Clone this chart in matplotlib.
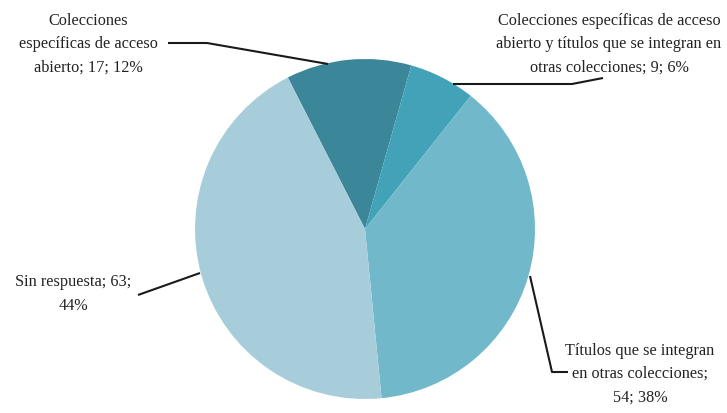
import matplotlib

matplotlib.use("Agg")
import matplotlib.pyplot as plt

# data
labels = [
    "Colecciones\nespecíficas de acceso\nabierto; 17; 12%",
    "Colecciones específicas de acceso\nabierto y títulos que se integran en\notras colecciones; 9; 6%",
    "Títulos que se integran\nen otras colecciones;\n54; 38%",
    "Sin respuesta; 63;\n44%",
]
values = [17, 9, 54, 63]
colors = ["#3B8799", "#42A3B8", "#72B8CB", "#A7CDDB"]

W, H = 727, 414
plt.rcParams["font.family"] = ["Liberation Serif", "DejaVu Serif"]

fig = plt.figure(figsize=(W / 100, H / 100), dpi=100)
ax = fig.add_axes([0, 0, 1, 1])

ax.pie(
    values,
    colors=colors,
    startangle=117,
    counterclock=False,
    center=(365, H - 230),
    radius=170,
    wedgeprops={"linewidth": 0},
)
ax.set_xlim(0, W)
ax.set_ylim(0, H)
ax.set_aspect("equal")
ax.axis("off")

# label positions (pixel coords, y from top) and leader lines
label_pos = [(88, 44), (609, 44), (640, 374), (73, 294)]
leaders = [
    [(168, 44), (207, 44), (328, 65)],
    [(453, 85), (572, 85), (603, 79)],
    [(530, 277), (552, 373), (568, 373)],
    [(138, 296), (200, 274)],
]

for text, (x, y) in zip(labels, label_pos):
    ax.text(x, H - y, text, ha="center", va="center", fontsize=11.7,
            color="#222222", linespacing=1.62)

for pts in leaders:
    xs = [p[0] for p in pts]
    ys = [H - p[1] for p in pts]
    ax.plot(xs, ys, color="#1a1a1a", linewidth=1.5, solid_capstyle="butt")

fig.savefig("out.png", dpi=100)
plt.close(fig)
